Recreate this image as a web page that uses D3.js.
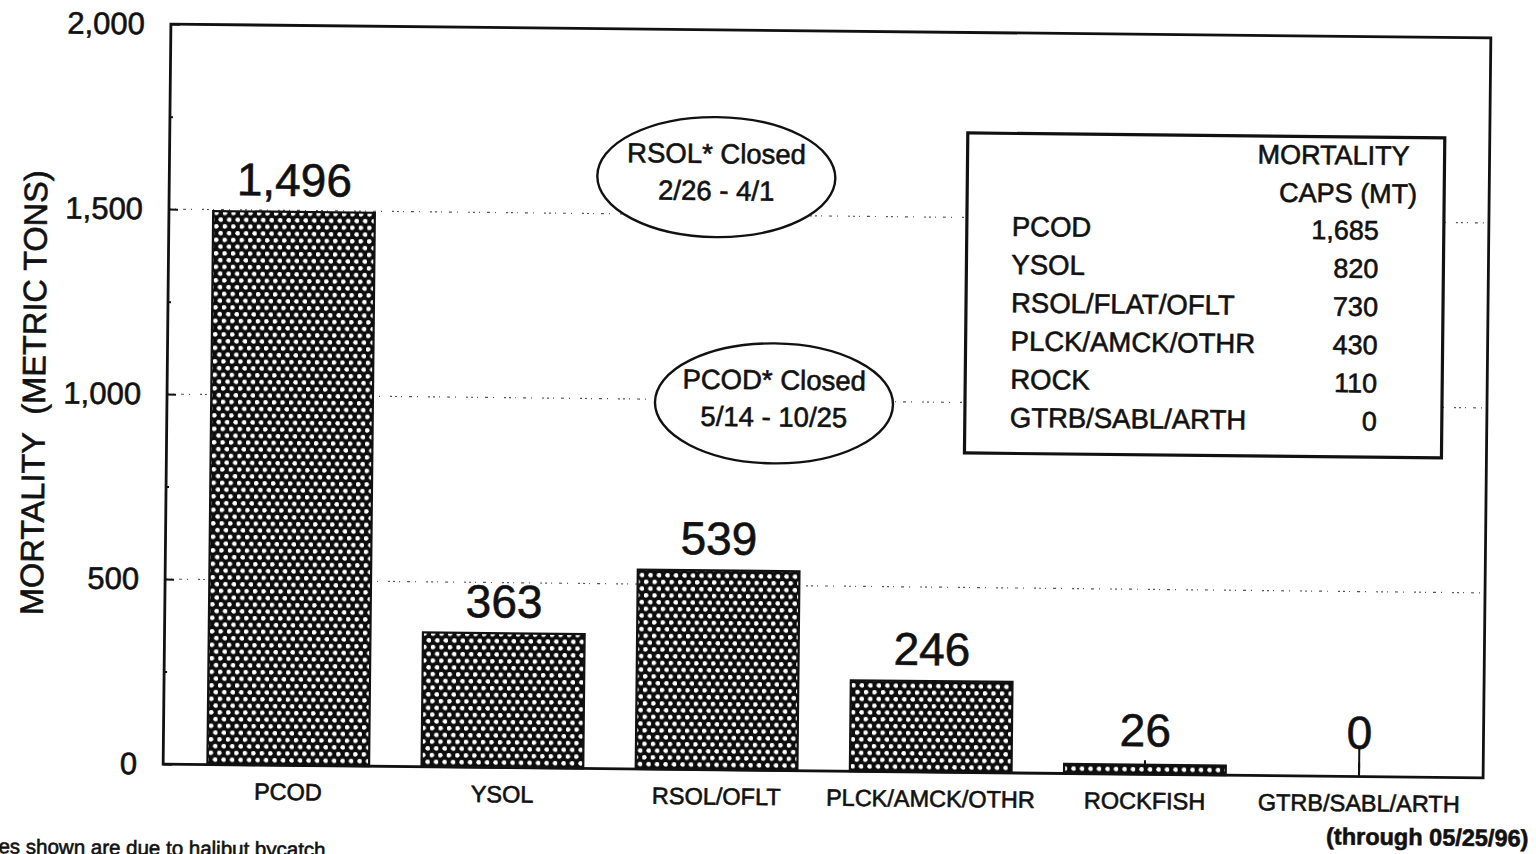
<!DOCTYPE html>
<html>
<head>
<meta charset="utf-8">
<script src="https://cdn.jsdelivr.net/npm/d3@7"></script>
<style>
  html, body { margin: 0; padding: 0; background: #fff; overflow: hidden; }
  svg { display: block; }
  text { font-family: "Liberation Sans", Arial, Helvetica, sans-serif; fill: #111; stroke: #111; stroke-width: 0.6px; }
</style>
</head>
<body>
<script>
// ---- data ----
const categories = ["PCOD", "YSOL", "RSOL/OFLT", "PLCK/AMCK/OTHR", "ROCKFISH", "GTRB/SABL/ARTH"];
const mortality = [1496, 363, 539, 246, 26, 0];
const yTicks = [0, 500, 1000, 1500, 2000];
const yMinorTicks = [250, 750, 1250, 1750];
const gridValues = [500, 1000, 1500];
const capGroups = ["PCOD", "YSOL", "RSOL/FLAT/OFLT", "PLCK/AMCK/OTHR", "ROCK", "GTRB/SABL/ARTH"];
const capValues = [1685, 820, 730, 430, 110, 0];
const capHeader = ["MORTALITY", "CAPS (MT)"];
const closureLabels = ["RSOL* Closed", "PCOD* Closed"];
const closureDates = ["2/26 - 4/1", "5/14 - 10/25"];
const yTitle = "MORTALITY  (METRIC TONS)";
const footnote = "*Closures shown are due to halibut bycatch.";
const throughNote = "(through 05/25/96)";

// ---- layout ----
const W = 1536, H = 854;
const plot = { left: 167, right: 1487, top: 31, bottom: 771 };
const fmt = d3.format(",");

const svg = d3.select("body").append("svg").attr("width", W).attr("height", H);

const defs = svg.append("defs");
const pat = defs.append("pattern").attr("id", "dots")
  .attr("patternUnits", "userSpaceOnUse").attr("width", 8.5).attr("height", 13.5);
pat.append("rect").attr("width", 8.5).attr("height", 13.5).attr("fill", "#0d0d0d");
pat.append("circle").attr("cx", 2.1).attr("cy", 3.2).attr("r", 2.3).attr("fill", "#fff");
pat.append("circle").attr("cx", 6.35).attr("cy", 9.95).attr("r", 2.3).attr("fill", "#fff");

// whole scanned page is slightly tilted
const g = svg.append("g").attr("transform", "rotate(0.6, 826.75, 400.75)");

const x = d3.scaleBand().domain(categories).range([185, 1470])
  .paddingInner(0.245).paddingOuter(0.1225);
const y = d3.scaleLinear().domain([0, 2000]).range([plot.bottom, plot.top]);

// gridlines (sparse dotted)
g.append("g").selectAll("line").data(gridValues).join("line")
  .attr("x1", plot.left).attr("x2", plot.right)
  .attr("y1", d => y(d)).attr("y2", d => y(d))
  .attr("stroke", "#555").attr("stroke-width", 1.2)
  .attr("stroke-dasharray", "2 4 1 7 3 5 1 10 2 3");

// y axis with inward ticks
const yAxis = d3.axisLeft(y).tickValues(yTicks).tickFormat(fmt).tickSizeInner(-9).tickSizeOuter(0).tickPadding(26);
const ya = g.append("g").attr("transform", `translate(${plot.left},0)`).call(yAxis);
ya.select(".domain").remove();
ya.selectAll(".tick line").attr("stroke", "#111").attr("stroke-width", 2);
ya.selectAll(".tick text").attr("font-size", 31).attr("fill", "#111")
  .attr("font-family", "'Liberation Sans', Arial, sans-serif");

const yMinor = d3.axisLeft(y).tickValues(yMinorTicks).tickFormat("").tickSizeInner(-3).tickSizeOuter(0);
const ym = g.append("g").attr("transform", `translate(${plot.left},0)`).call(yMinor);
ym.select(".domain").remove();
ym.selectAll(".tick line").attr("stroke", "#111").attr("stroke-width", 2);

// x axis with inward ticks at category centres
const xAxis = d3.axisBottom(x).tickSizeInner(-14).tickSizeOuter(0).tickPadding(18);
const xa = g.append("g").attr("transform", `translate(0,${plot.bottom})`).call(xAxis);
xa.select(".domain").remove();
xa.selectAll(".tick line").attr("stroke", "#111").attr("stroke-width", 2);
xa.selectAll(".tick text").attr("font-size", 23.5).attr("fill", "#111")
  .attr("font-family", "'Liberation Sans', Arial, sans-serif");

// bars
g.append("g").selectAll("rect").data(categories).join("rect")
  .attr("x", d => x(d)).attr("width", x.bandwidth())
  .attr("y", (d, i) => y(mortality[i]))
  .attr("height", (d, i) => y(0) - y(mortality[i]))
  .attr("fill", "url(#dots)").attr("stroke", "#111").attr("stroke-width", 2.2);

// value labels
const labelY = v => Math.min(y(v), y(0) - 12) - 16;
g.append("g").selectAll("text").data(categories).join("text")
  .attr("x", d => x(d) + x.bandwidth() / 2)
  .attr("y", (d, i) => labelY(mortality[i]))
  .attr("text-anchor", "middle").attr("font-size", 46)
  .text((d, i) => fmt(mortality[i]));

// stem for zero-valued category
g.append("g").selectAll("line").data(categories.filter((d, i) => mortality[i] === 0)).join("line")
  .attr("x1", d => x(d) + x.bandwidth() / 2).attr("x2", d => x(d) + x.bandwidth() / 2)
  .attr("y1", y(0)).attr("y2", labelY(0) - 2)
  .attr("stroke", "#111").attr("stroke-width", 2);

// frame
g.append("rect").attr("x", plot.left).attr("y", plot.top)
  .attr("width", plot.right - plot.left).attr("height", plot.bottom - plot.top)
  .attr("fill", "none").attr("stroke", "#111").attr("stroke-width", 2.8);

// y title
g.append("text")
  .attr("transform", `translate(45,${(plot.top + plot.bottom) / 2}) rotate(-90)`)
  .attr("text-anchor", "middle").attr("font-size", 32.5)
  .attr("xml:space", "preserve").style("white-space", "pre")
  .text(yTitle);

// closure ellipses
const closurePos = [
  { cx: 714, cy: y(1602) },
  { cx: 774, cy: y(992) }
];
const cg = g.append("g").selectAll("g").data(closureLabels).join("g")
  .attr("transform", (d, i) => `translate(${closurePos[i].cx},${closurePos[i].cy})`);
cg.append("ellipse").attr("rx", 119).attr("ry", 60)
  .attr("fill", "#fff").attr("stroke", "#111").attr("stroke-width", 2.4);
cg.append("text").attr("y", -14).attr("text-anchor", "middle").attr("font-size", 27.5).text(d => d);
cg.append("text").attr("y", 23).attr("text-anchor", "middle").attr("font-size", 27.5)
  .text((d, i) => closureDates[i]);

// mortality caps legend box
const lb = { x: 965, y: 131.5, w: 477, h: 320 };
const lg = g.append("g");
lg.append("rect").attr("x", lb.x).attr("y", lb.y).attr("width", lb.w).attr("height", lb.h)
  .attr("fill", "#fff").attr("stroke", "#111").attr("stroke-width", 3.2);
lg.selectAll("text.hdr").data(capHeader).join("text").attr("class", "hdr")
  .attr("x", (d, i) => i === 0 ? 1331 : 1346)
  .attr("y", (d, i) => 159 + i * 38)
  .attr("text-anchor", "middle").attr("font-size", 27).text(d => d);
const rowY = i => 234 + i * 38.2;
lg.selectAll("text.nm").data(capGroups).join("text").attr("class", "nm")
  .attr("x", 1010).attr("y", (d, i) => rowY(i))
  .attr("font-size", 27.5).text(d => d);
lg.selectAll("text.val").data(capValues).join("text").attr("class", "val")
  .attr("x", 1377).attr("y", (d, i) => rowY(i))
  .attr("text-anchor", "end").attr("font-size", 27).text(d => fmt(d));

// notes
g.append("text").attr("x", 1533).attr("y", 839).attr("text-anchor", "end")
  .attr("font-size", 23.5).attr("font-weight", "bold").text(throughNote);
g.append("text").attr("x", -64).attr("y", 862).attr("font-size", 20.5).text(footnote);
</script>
</body>
</html>
